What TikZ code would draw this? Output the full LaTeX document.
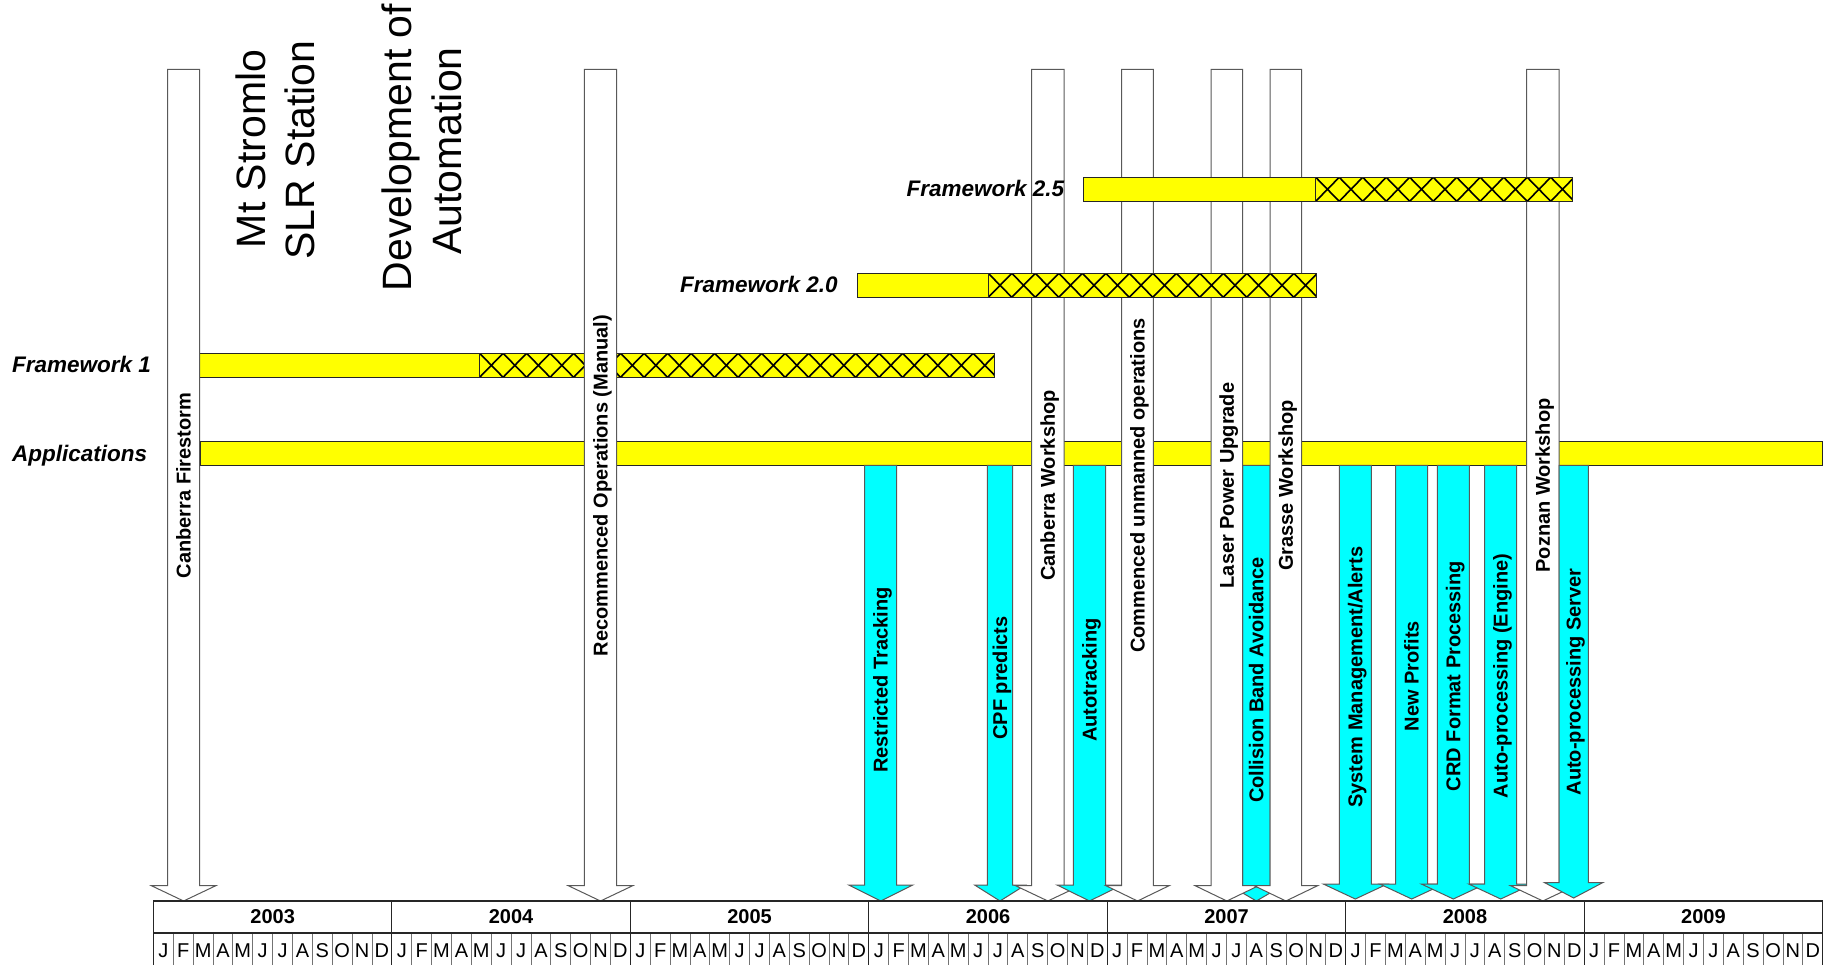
\documentclass[tikz,border=0pt]{standalone}
\usepackage{fontspec}
\setmainfont{Liberation Sans}
\definecolor{ylw}{RGB}{255,255,0}
\definecolor{aqua}{RGB}{0,255,255}

\begin{document}
\begin{tikzpicture}[x=1pt, y=-1pt,
    bar/.style={draw=black!85, line width=1pt, fill=ylw},
    hatchline/.style={black, line width=1.6pt},
    msarrow/.style={draw=black!65, line width=1pt},
    mstext/.style={rotate=90, anchor=base, inner sep=0pt, font=\fontsize{20}{24}\selectfont\bfseries},
    bigtext/.style={rotate=90, anchor=base, inner sep=0pt, font=\fontsize{41}{49}\selectfont},
    fwtext/.style={anchor=base west, inner sep=0pt, font=\fontsize{22.5}{27}\selectfont\bfseries\itshape},
    yearbox/.style={draw=black!85, line width=1.2pt},
    monthbox/.style={draw=black!55, line width=0.9pt},
    yeartext/.style={anchor=base, inner sep=0pt, font=\fontsize{20}{24}\selectfont\bfseries},
    monthtext/.style={anchor=base, inner sep=0pt, font=\fontsize{20}{24}\selectfont}]
    \useasboundingbox (0,0) rectangle (1830,965);
    \clip (0,0) rectangle (1830,965);

    % 标题文字
    \node[bigtext] (stromlo1) at (265,149) {Mt Stromlo};
    \node[bigtext] (stromlo2) at (314,150) {SLR Station};
    \node[bigtext] (auto1) at (411,147.5) {Development of};
    \node[bigtext] (auto2) at (461,151) {Automation};

    % Applications 与 Framework 1
    \draw[bar] (200,441.7) rectangle (1822.7,465.3);
    \node[fwtext] (apps) at (12,461) {Applications};
    \draw[bar] (199.7,353.3) rectangle (479.6,377.3);
    \fill[ylw] (479.6,353.3) rectangle (994.2,377.3);
    \begin{scope}
      \clip (479.6,353.3) rectangle (994.2,377.3);
      \foreach \k in {0,...,22}
        \draw[hatchline] ({479.6+23.5*\k},353.3) -- ++(23.5,24) ({479.6+23.5*\k},377.3) -- ++(23.5,-24);
    \end{scope}
    \draw[bar, fill=none] (479.6,353.3) rectangle (994.2,377.3);
    \node[fwtext] (fw1) at (12,372.7) {Framework 1};

    % 里程碑箭头
    \foreach \nm/\fc/\xa/\xb/\yt/\yb/\yp/\ly/\lab in {
        firestorm/white/167.5/199.7/69.3/885.7/901/485.5/Canberra Firestorm,
        recommenced/white/584.4/616.6/69.3/885.7/901/485.5/Recommenced Operations (Manual),
        restricted/aqua/864.7/896.7/465.3/885/901/680/Restricted Tracking,
        cpf/aqua/987.3/1012.7/465.3/885/901/678/CPF predicts,
        cbrws/white/1031.7/1064/69.3/885.7/901/485.5/Canberra Workshop,
        autotrack/aqua/1073.3/1105.7/465.3/885/901/680/Autotracking,
        unmanned/white/1121.7/1153.3/69.3/885.7/901/485.5/Commenced unmanned operations,
        collision/aqua/1242.7/1270/465.3/885/901/680/Collision Band Avoidance,
        laser/white/1211/1242.7/69.3/885.7/901/485.5/Laser Power Upgrade,
        grasse/white/1270/1301.7/69.3/885.7/901/485.5/Grasse Workshop,
        sysmgmt/aqua/1339.3/1371.3/465.3/884/899/677/{System Management/Alerts},
        newprof/aqua/1395.7/1427.7/465.3/884/899/676/New Profits,
        crd/aqua/1437.3/1469.3/465.3/884/899/676/CRD Format Processing,
        autoeng/aqua/1484.7/1516.7/465.3/884/899/676/Auto-processing (Engine),
        poznan/white/1526.7/1559/69.3/885.7/901/485.5/Poznan Workshop,
        autoserv/aqua/1559/1588.3/465.3/882.5/898/682/Auto-processing Server} {
      \draw[msarrow, fill=\fc] (\xa,\yt) -- (\xb,\yt) -- (\xb,\yb) -- ({1.5*\xb-0.5*\xa},\yb)
          -- ({(\xa+\xb)/2},\yp) -- ({1.5*\xa-0.5*\xb},\yb) -- (\xa,\yb) -- cycle;
      \node[mstext] (\nm) at ({(\xa+\xb)/2+7},\ly) {\lab};
    }

    % Framework 2.0 与 2.5
    \foreach \nm/\xa/\xh/\xb/\yt/\lx/\lab in {fw20/857/988.3/1316.5/273.3/680/Framework 2.0,
        fw25/1083.2/1315.7/1572.4/177.3/906.5/Framework 2.5} {
      \draw[bar] (\xa,\yt) rectangle (\xh,{\yt+24});
      \fill[ylw] (\xh,\yt) rectangle (\xb,{\yt+24});
      \begin{scope}
        \clip (\xh,\yt) rectangle (\xb,{\yt+24});
        \foreach \k in {0,...,14}
          \draw[hatchline] ({\xh+23.5*\k},\yt) -- ++(23.5,24) ({\xh+23.5*\k},{\yt+24}) -- ++(23.5,-24);
      \end{scope}
      \draw[bar, fill=none] (\xh,\yt) rectangle (\xb,{\yt+24});
      \node[fwtext] (\nm) at (\lx,{\yt+19.3}) {\lab};
    }

    % 时间轴
    \foreach \yr [count=\i from 0] in {2003,...,2009} {
      \foreach \m [count=\j from 0] in {J,F,M,A,M,J,J,A,S,O,N,D} {
        \draw[monthbox] ({153.4+238.47*\i+19.8725*\j},933) rectangle ++(19.8725,40);
        \node[monthtext] (m\i-\j) at ({153.4+238.47*\i+19.8725*(\j+0.5)},957.3) {\m};
      }
      \draw[yearbox] ({153.4+238.47*\i},901) rectangle ++(238.47,32);
      \draw[yearbox] ({153.4+238.47*\i},901) -- ++(0,72);
      \node[yeartext] (y\yr) at ({153.4+238.47*(\i+0.5)},923.3) {\yr};
    }
    \draw[yearbox] (1822.7,901) -- ++(0,72);
\end{tikzpicture}
\end{document}
